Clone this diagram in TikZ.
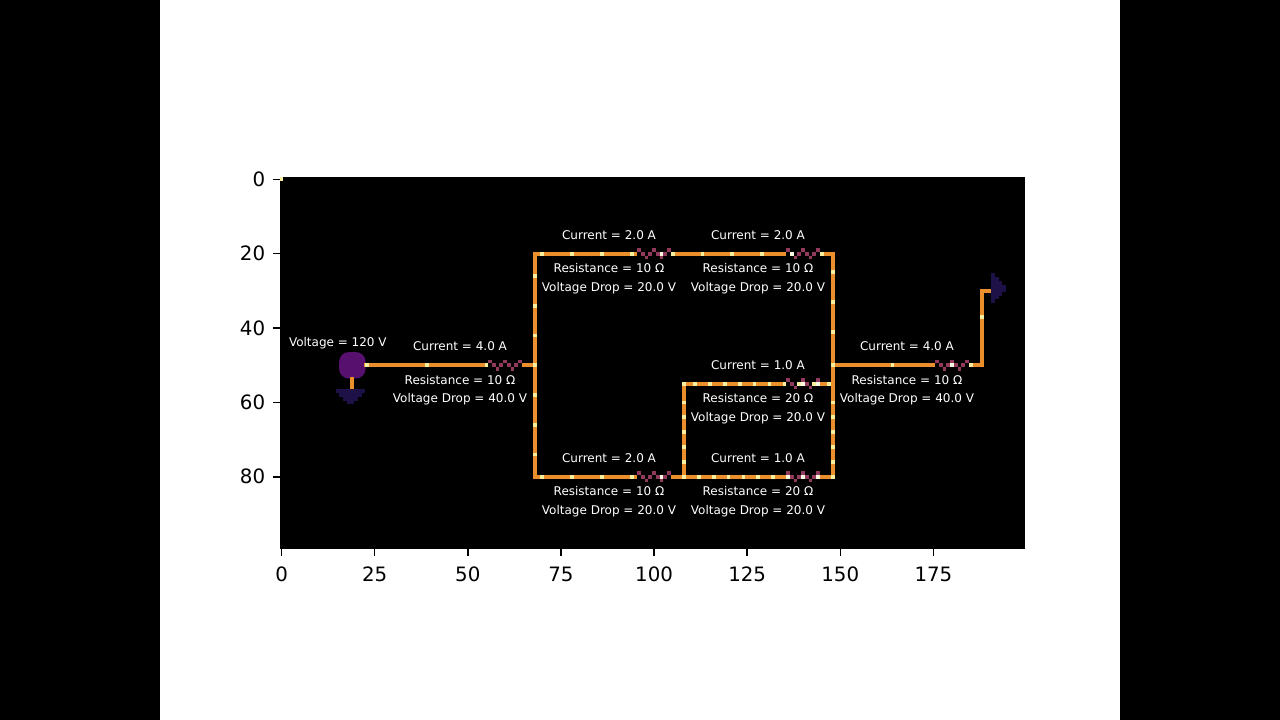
\documentclass[tikz,border=0pt]{standalone}
\usepackage{fontspec}
\setmainfont{DejaVu Sans}
\definecolor{wirecol}{HTML}{EB8E2C}
\definecolor{beadcol}{HTML}{F8F0A0}
\definecolor{rescol}{HTML}{923A5C}
\definecolor{sourcecol}{HTML}{57106E}
\definecolor{groundcol}{HTML}{1D1147}

\begin{document}
\begin{tikzpicture}[x=1.8625pt,y=-1.86pt,
                wire/.style={draw=wirecol,line width=1.86pt,line cap=rect},
                bead/.style={fill=beadcol},
                hotbead/.style={fill=white!70!beadcol},
                tooth/.style={fill=rescol},
                label/.style={text=white,font=\fontsize{6}{7}\selectfont,anchor=base,inner sep=0pt},
                tick label/.style={text=black,font=\fontsize{9.9}{11}\selectfont,inner sep=0pt},
                source node/.style={rectangle,rounded corners=4.8pt,fill=sourcecol,
                  minimum size=13.2pt,inner sep=0pt}]

  % page, side bars and the image area
  \useasboundingbox (-75.6,-48.2) rectangle (268.05,145.35);
  \fill[white] (-75.6,-48.2) rectangle (268.05,145.35);
  \fill[black] (-75.6,-48.2) rectangle (-32.67,145.35);
  \fill[black] (225.05,-48.2) rectangle (268.05,145.35);
  \fill[black] (-0.5,-0.5) rectangle (199.5,99.5);

  % axes
  \foreach \tx in {0,25,50,75,100,125,150,175} {
    \draw[line width=0.7pt] (\tx,99.5) -- +(0,1.9);
    \node[tick label,anchor=base] (xt\tx) at (\tx,108) {\tx};
  }
  \foreach \ty in {0,20,40,60,80} {
    \draw[line width=0.7pt] (-0.5,\ty) -- +(-1.9,0);
    \node[tick label,anchor=base east] (yt\ty) at (-4.3,\ty+1.9) {\ty};
  }

  % circuit points
  \coordinate (a) at (68,50);
  \coordinate (tl) at (68,20);
  \coordinate (bl) at (68,80);
  \coordinate (tr) at (148,20);
  \coordinate (br) at (148,80);
  \coordinate (b) at (148,50);
  \coordinate (ml) at (108,80);
  \coordinate (mt) at (108,55);
  \coordinate (mr) at (148,55);
  \coordinate (c) at (188,50);
  \coordinate (d) at (188,30);
  \coordinate (output) at (190,30);
  \coordinate (ground) at (19,56.5);
  \node[source node] (source) at (19,50) {};

  \path
    (source) edge [wire] (a)
    (source) edge [wire] (ground)
    (tl) edge [wire] (bl)
    (tl) edge [wire] (tr)
    (bl) edge [wire] (br)
    (tr) edge [wire] (br)
    (ml) edge [wire] (mt)
    (mt) edge [wire] (mr)
    (b) edge [wire] (c)
    (c) edge [wire] (d)
    (d) edge [wire] (output);

  % ground and output markers
  \foreach \by/\xa/\xb in {57/15/22,58/16/21,59/17/20,60/18/19}
    \fill[groundcol] (\xa-.5,\by-.5) rectangle (\xb+.5,\by+.5);
  \foreach \bx/\ya/\yb in {191/26/33,192/27/32,193/28/31,194/29/30}
    \fill[groundcol] (\bx-.5,\ya-.7) rectangle (\bx+.5,\yb+.3);

  % resistors
  \foreach \rx/\ry in {56/50,96/20,136/20,136/55,96/80,136/80,176/50} {
    \fill[black] (\rx-.5,\ry-.5) rectangle (\rx+8.5,\ry+.5);
    \foreach \ox/\oy in {0/-1,1/0,2/1,3/0,4/-1,5/0,6/1,7/0,8/-1}
      \fill[tooth] (\rx+\ox-.5,\ry+\oy-.5) rectangle +(1,1);
  }

  % moving charges along the wires
  \fill[bead] (-.5,-.5) rectangle +(1,1);
  \foreach \by/\bxs in {20/{70,78,86,94,105,113,121,129,145},
                        50/{23,39,55,68,148,164,185},
                        55/{108,111,115,119,123,127,131,135,139,143,147},
                        80/{70,78,86,94,108,112,116,120,124,128,132,148}}
    \foreach \bx in \bxs
      \fill[bead] (\bx-.5,\by-.5) rectangle +(1,1);
  \foreach \bx/\bys in {68/{26,34,42,58,66,74},
                        108/{60,64,68,72,76},
                        148/{25,33,41,60,64,68,72,76},
                        188/{37}}
    \foreach \by in \bys
      \fill[bead] (\bx-.5,\by-.5) rectangle +(1,1);
  \foreach \bx/\by in {102/20,137/20,140/55,144/55,102/80,136/80,140/80,144/80,180/50}
    \fill[hotbead] (\bx-.5,\by-.5) rectangle +(1,1);

  % labels
  \node[label] (voltage) at (15.1,45) {Voltage = 120 V};
  \foreach \sx/\sy/\cur/\res/\drp in {48/50/4.0/10/40.0,88/20/2.0/10/20.0,128/20/2.0/10/20.0,
      128/55/1.0/20/20.0,88/80/2.0/10/20.0,128/80/1.0/20/20.0,168/50/4.0/10/40.0} {
    \node[label] (cur\sx\sy) at (\sx-.1,\sy-3.9) {Current = \cur{} A};
    \node[label] (res\sx\sy) at (\sx-.1,\sy+5.1) {Resistance = \res{} Ω};
    \node[label] (drp\sx\sy) at (\sx-.1,\sy+10.1) {Voltage Drop = \drp{} V};
  }
\end{tikzpicture}
\end{document}
